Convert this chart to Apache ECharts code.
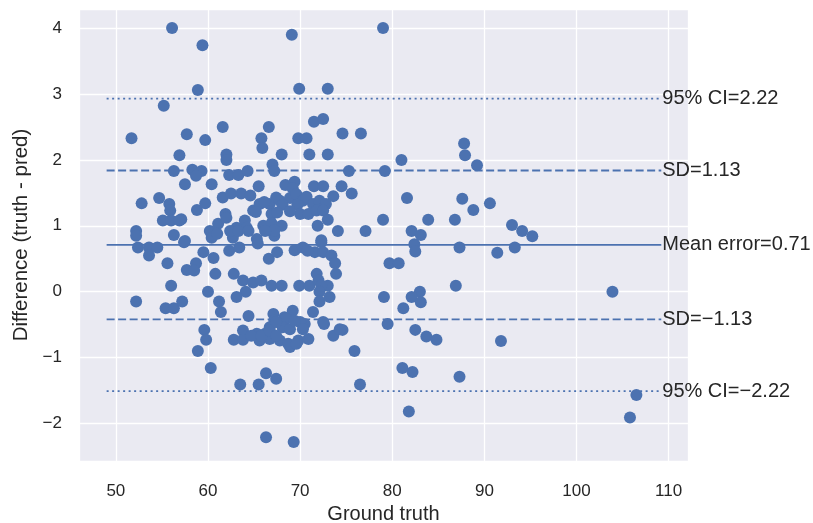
<!DOCTYPE html>
<html>
<head>
<meta charset="utf-8">
<script src="https://cdn.jsdelivr.net/npm/echarts@6/dist/echarts.min.js"></script>
<style>
html,body{margin:0;padding:0;background:#fff;}
#chart{width:813px;height:523px;}
</style>
</head>
<body>
<div id="chart"></div>
<script>
// Ground truth (x) values
const groundTruth = [
56.1,59.4,69.1,79.0,58.9,69.9,73.0,55.2,51.7,61.6,57.7,59.7,56.9,62.0,62.0,66.6,65.8,65.9,71.5,72.5,
69.8,70.7,74.6,76.6,68.0,71.0,73.0,81.0,87.8,87.9,89.2,67.0,67.2,56.3,58.3,59.3,58.7,57.5,60.4,62.3,
63.3,64.3,65.5,75.3,79.2,68.4,69.4,69.2,71.5,72.5,74.5,75.6,73.6,81.6,87.6,88.8,90.6,52.8,54.7,55.8,
55.9,58.8,59.7,61.6,62.5,63.6,64.6,61.9,64.9,65.6,66.7,67.4,66.1,67.8,68.9,69.6,70.3,70.7,71.4,72.1,
68.1,69.7,72.8,66.9,70.0,70.9,71.8,72.5,65.2,68.9,67.5,73.0,71.9,66.0,68.0,66.9,79.0,83.9,86.8,57.1,
61.1,62.0,63.1,64.0,64.2,55.1,56.0,56.9,74.1,77.1,82.1,83.1,93.0,94.1,95.2,65.3,67.2,72.3,52.2,52.2,
56.3,60.2,60.4,62.7,67.2,57.5,62.4,63.3,64.4,66.2,61.0,52.4,53.6,53.6,54.5,57.4,59.5,60.6,62.3,63.4,
65.4,66.6,67.5,69.4,70.3,71.6,72.3,72.5,73.4,82.4,82.5,87.3,91.4,93.3,70.8,55.6,57.7,58.7,58.5,60.8,
62.8,73.8,73.9,79.7,80.7,71.8,56.0,60.0,63.8,64.9,65.8,66.9,68.0,69.9,71.0,72.0,73.0,72.3,64.1,72.1,
83.0,86.9,103.9,52.2,55.4,56.3,57.2,61.2,61.4,63.1,64.4,72.1,73.2,71.4,69.2,79.1,82.1,83.1,81.2,67.1,
68.3,79.5,82.5,83.7,84.8,91.8,72.6,73.6,74.6,75.9,65.3,66.2,66.7,67.2,67.8,68.5,68.9,69.8,70.5,70.9,
68.1,68.9,70.0,66.7,65.6,59.6,59.8,58.9,62.8,63.8,63.8,64.7,65.8,66.7,67.4,68.7,69.6,70.3,72.5,74.3,
69.4,67.4,60.3,63.5,65.5,66.3,67.4,76.5,81.1,82.2,87.3,106.5,81.8,105.8,66.3,69.3
];
// Difference (truth - pred) values
const difference = [
4.00,3.74,3.90,4.00,3.06,3.08,3.08,2.82,2.33,2.50,2.39,2.30,2.07,2.08,2.00,2.50,2.33,2.18,2.58,2.62,
2.33,2.33,2.40,2.40,2.08,2.08,2.08,2.00,2.25,2.07,1.92,1.93,1.83,1.83,1.85,1.83,1.76,1.63,1.63,1.77,
1.77,1.83,1.60,1.83,1.83,1.62,1.67,1.57,1.60,1.60,1.60,1.49,1.45,1.42,1.41,1.24,1.34,1.34,1.42,1.33,
1.23,1.24,1.34,1.43,1.49,1.49,1.46,1.18,1.23,1.33,1.33,1.43,1.36,1.38,1.42,1.48,1.38,1.44,1.33,1.38,
1.32,1.32,1.33,1.18,1.18,1.18,1.23,1.23,1.21,1.22,1.20,1.09,1.00,1.00,1.00,1.04,1.09,1.09,1.09,1.10,
1.03,1.12,0.97,1.08,0.97,1.08,1.08,1.08,0.92,0.92,0.92,0.86,1.01,0.92,0.84,0.80,0.85,0.78,0.92,0.85,
0.86,0.92,0.82,0.82,0.93,0.77,0.92,0.92,0.92,0.92,0.88,0.67,0.67,0.55,0.67,0.75,0.60,0.51,0.62,0.67,
0.73,0.50,0.60,0.63,0.67,0.60,0.75,0.60,0.55,0.72,0.61,0.67,0.59,0.67,0.62,0.43,0.33,0.43,0.32,0.27,
0.27,0.43,0.27,0.43,0.43,0.27,0.09,0.00,0.17,0.14,0.17,0.09,0.09,0.09,0.09,0.17,0.09,0.09,0.00,0.00,
0.00,0.09,0.00,-0.15,-0.25,-0.25,-0.15,-0.15,-0.31,-0.08,-0.37,-0.15,-0.08,-0.31,-0.29,-0.08,-0.08,-0.16,-0.25,-0.34,
-0.39,-0.49,-0.58,-0.68,-0.73,-0.75,-0.49,-0.67,-0.58,-0.90,-0.64,-0.64,-0.72,-0.44,-0.74,-0.41,-0.84,-0.74,-0.49,-0.72,
-0.54,-0.57,-0.46,-0.54,-0.74,-0.58,-0.73,-0.90,-0.73,-0.59,-0.73,-0.67,-0.67,-0.59,-0.67,-0.79,-0.79,-0.57,-0.46,-0.57,
-0.44,-0.46,-1.16,-1.41,-1.41,-1.24,-1.32,-1.41,-1.16,-1.22,-1.29,-1.57,-1.82,-1.91,-2.21,-2.28
];
// Summary statistics
const meanError = 0.71;
const sdValue = 1.13;
const ciValue = 2.22;
// Horizontal reference line extent (data units)
const refLineStart = 49.0;
const refLineEnd = 109.2;

const MINUS = '\u2212';
const fmtNum = v => (v < 0 ? MINUS + Math.abs(v).toFixed(2) : v.toFixed(2));

const refLines = [
  { level: meanError + ciValue, text: '95% CI=' + fmtNum(ciValue), type: [2, 3.5] },
  { level: meanError + sdValue, text: 'SD=' + fmtNum(sdValue), type: [8, 3.5] },
  { level: meanError, text: 'Mean error=' + fmtNum(meanError), type: 'solid' },
  { level: meanError - sdValue, text: 'SD=' + fmtNum(-sdValue), type: [8, 3.5] },
  { level: meanError - ciValue, text: '95% CI=' + fmtNum(-ciValue), type: [2, 3.5] }
];

const FONT = '"Liberation Sans", Arial, sans-serif';
const TXT = '#262626';
const BLUE = '#4C72B0';

const chart = echarts.init(document.getElementById('chart'), null, { renderer: 'canvas' });

const series = [];
refLines.forEach(r => {
  series.push({
    type: 'line',
    silent: true,
    symbol: 'none',
    showSymbol: false,
    z: 1,
    lineStyle: { color: BLUE, width: 1.9, type: r.type },
    endLabel: {
      show: true, distance: 1,
      formatter: r.text,
      color: TXT, fontSize: 20, fontFamily: FONT
    },
    labelLayout: { hideOverlap: false },
    data: [[refLineStart, r.level], [refLineEnd, r.level]]
  });
});
series.push({
  type: 'scatter',
  z: 3,
  symbolSize: 12,
  itemStyle: { color: BLUE, opacity: 1 },
  data: groundTruth.map((x, i) => [x, difference[i]])
});

chart.setOption({
  animation: false,
  backgroundColor: '#ffffff',
  grid: {
    left: 79, right: 125, top: 9, bottom: 62,
    containLabel: false,
    outerBoundsMode: 'none',
    show: true, backgroundColor: '#EAEAF2', borderWidth: 0
  },
  xAxis: {
    type: 'value', min: 46, max: 112.1, splitNumber: 6,
    name: 'Ground truth', nameLocation: 'middle', nameGap: 40,
    nameTextStyle: { color: TXT, fontSize: 20, fontFamily: FONT },
    axisLine: { show: false }, axisTick: { show: false },
    axisLabel: {
      color: TXT, fontSize: 17, fontFamily: FONT, margin: 22,
      formatter: v => (Math.abs(v % 10) < 1e-6 ? String(v) : '')
    },
    splitLine: { show: true, lineStyle: { color: '#ffffff', width: 1.3 } }
  },
  yAxis: {
    type: 'value', min: -2.57, max: 4.29, splitNumber: 6,
    name: 'Difference (truth - pred)', nameLocation: 'middle', nameGap: 47,
    nameTextStyle: { color: TXT, fontSize: 20.5, fontFamily: FONT },
    axisLine: { show: false }, axisTick: { show: false },
    axisLabel: {
      color: TXT, fontSize: 17, fontFamily: FONT, margin: 17,
      formatter: v => (Math.abs(v - Math.round(v)) < 1e-6 ? (v < 0 ? MINUS + Math.abs(v) : String(v)) : '')
    },
    splitLine: { show: true, lineStyle: { color: '#ffffff', width: 1.3 } }
  },
  series: series
});
</script>
</body>
</html>
